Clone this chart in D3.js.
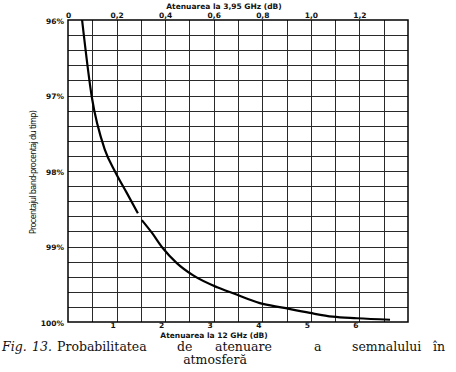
<!DOCTYPE html>
<html>
<head>
<meta charset="utf-8">
<script src="https://cdn.jsdelivr.net/npm/d3@7"></script>
<style>
  body { margin: 0; background: #fff; }
</style>
</head>
<body>
<svg width="456" height="372"></svg>
<script>
// Chart values
const atten12 = [0.29, 0.49, 0.76, 0.97, 1.21, 1.44];          // dB at 12 GHz, upper branch
const percent12 = [96.0, 97.02, 97.72, 98.01, 98.29, 98.56];
const atten12b = [1.52, 1.73, 1.95, 2.24, 2.57, 3.07, 3.40, 3.95, 4.42, 4.98, 5.45, 5.95, 6.63];
const percent12b = [98.65, 98.82, 99.02, 99.22, 99.38, 99.54, 99.62, 99.75, 99.81, 99.88, 99.93, 99.95, 99.97];

const topTicks = [0, 0.2, 0.4, 0.6, 0.8, 1.0, 1.2];
const topLabels = ["0", "0,2", "0,4", "0,6", "0,8", "1,0", "1,2"];
const bottomTicks = [1, 2, 3, 4, 5, 6];
const yTicks = [96, 97, 98, 99, 100];
const yLabels = ["96%", "97%", "98%", "99%", "100%"];

const svg = d3.select("svg");
const plotL = 68, plotR = 408, plotT = 20, plotB = 322;
const sans = "DejaVu Sans, Liberation Sans, sans-serif";
const serif = "DejaVu Serif, Liberation Serif, serif";

// bottom axis (12 GHz) 0..7 dB, top axis (3,95 GHz) 0..1,4 dB on the same width
const x = d3.scaleLinear().domain([0, 7]).range([plotL, plotR]);
const xTop = d3.scaleLinear().domain([0, 1.4]).range([plotL, plotR]);
const y = d3.scaleLinear().domain([96, 100]).range([plotT, plotB]);

// grid
const grid = svg.append("g").attr("stroke", "#2a2a2a").attr("stroke-width", 1);
grid.selectAll(".v").data(d3.range(0.5, 7, 0.5)).enter().append("line")
    .attr("x1", d => Math.round(x(d)) + 0.5).attr("x2", d => Math.round(x(d)) + 0.5)
    .attr("y1", plotT).attr("y2", plotB);
grid.selectAll(".h").data(d3.range(96.2, 99.9, 0.2)).enter().append("line")
    .attr("y1", d => Math.round(y(d)) + 0.5).attr("y2", d => Math.round(y(d)) + 0.5)
    .attr("x1", plotL).attr("x2", plotR);

svg.append("rect")
    .attr("x", plotL).attr("y", plotT)
    .attr("width", plotR - plotL).attr("height", plotB - plotT)
    .attr("fill", "none").attr("stroke", "#000").attr("stroke-width", 1.5);

function styleTicks(g) {
    g.select(".domain").remove();
    g.selectAll(".tick text")
        .attr("font-family", sans).attr("font-weight", "bold")
        .attr("font-size", 7.5).attr("fill", "#111");
}

// top axis
svg.append("g")
    .attr("transform", "translate(0," + (plotT + 1) + ")")
    .call(d3.axisTop(xTop).tickValues(topTicks).tickSize(0)
        .tickFormat((d, i) => topLabels[i]))
    .call(styleTicks);

// bottom axis
svg.append("g")
    .attr("transform", "translate(-4," + (plotB - 2) + ")")
    .call(d3.axisBottom(x).tickValues(bottomTicks).tickSize(0).tickFormat(d3.format("d")))
    .call(styleTicks);

// left axis
svg.append("g")
    .attr("transform", "translate(" + (plotL - 1) + ",1)")
    .call(d3.axisLeft(y).tickValues(yTicks).tickSize(0)
        .tickFormat((d, i) => yLabels[i]))
    .call(styleTicks);

// axis titles
svg.append("text")
    .attr("x", 224).attr("y", 9)
    .attr("text-anchor", "middle")
    .attr("font-family", sans).attr("font-weight", "bold").attr("font-size", 7.5)
    .attr("fill", "#111")
    .text("Atenuarea la 3,95 GHz (dB)");

svg.append("text")
    .attr("x", 214).attr("y", 338)
    .attr("text-anchor", "middle")
    .attr("font-family", sans).attr("font-weight", "bold").attr("font-size", 7.5)
    .attr("fill", "#111")
    .text("Atenuarea la 12 GHz (dB)");

svg.append("text")
    .attr("transform", "translate(36,172) rotate(-90)")
    .attr("text-anchor", "middle")
    .attr("textLength", 124)
    .attr("font-family", "DejaVu Sans Condensed, Liberation Sans Narrow, sans-serif")
    .attr("font-size", 9)
    .attr("fill", "#111")
    .text("Procentajul band-procentaj du timp)");

// curve
const line = d3.line()
    .x(d => x(d[0])).y(d => y(d[1]))
    .curve(d3.curveMonotoneX);

[[atten12, percent12], [atten12b, percent12b]].forEach(([xs, ys]) => {
    svg.append("path")
        .datum(xs.map((v, i) => [v, ys[i]]))
        .attr("d", line)
        .attr("fill", "none")
        .attr("stroke", "#000")
        .attr("stroke-width", 2.2);
});

// caption
const cap = svg.append("text")
    .attr("y", 351)
    .attr("font-family", serif).attr("font-size", 12.5)
    .attr("fill", "#111");
const words = [["Fig.", 2, true], ["13.", 32, true], ["Probabilitatea", 57, false], ["de", 177, false],
    ["atenuare", 215, false], ["a", 314, false], ["semnalului", 352, false], ["în", 433, false]];
words.forEach(([w, px, it]) => {
    cap.append("tspan").attr("x", px).attr("font-style", it ? "italic" : "normal").text(w);
});
svg.append("text")
    .attr("x", 215).attr("y", 364)
    .attr("text-anchor", "middle")
    .attr("font-family", serif).attr("font-size", 12.5)
    .attr("fill", "#111")
    .text("atmosferă");
</script>
</body>
</html>
